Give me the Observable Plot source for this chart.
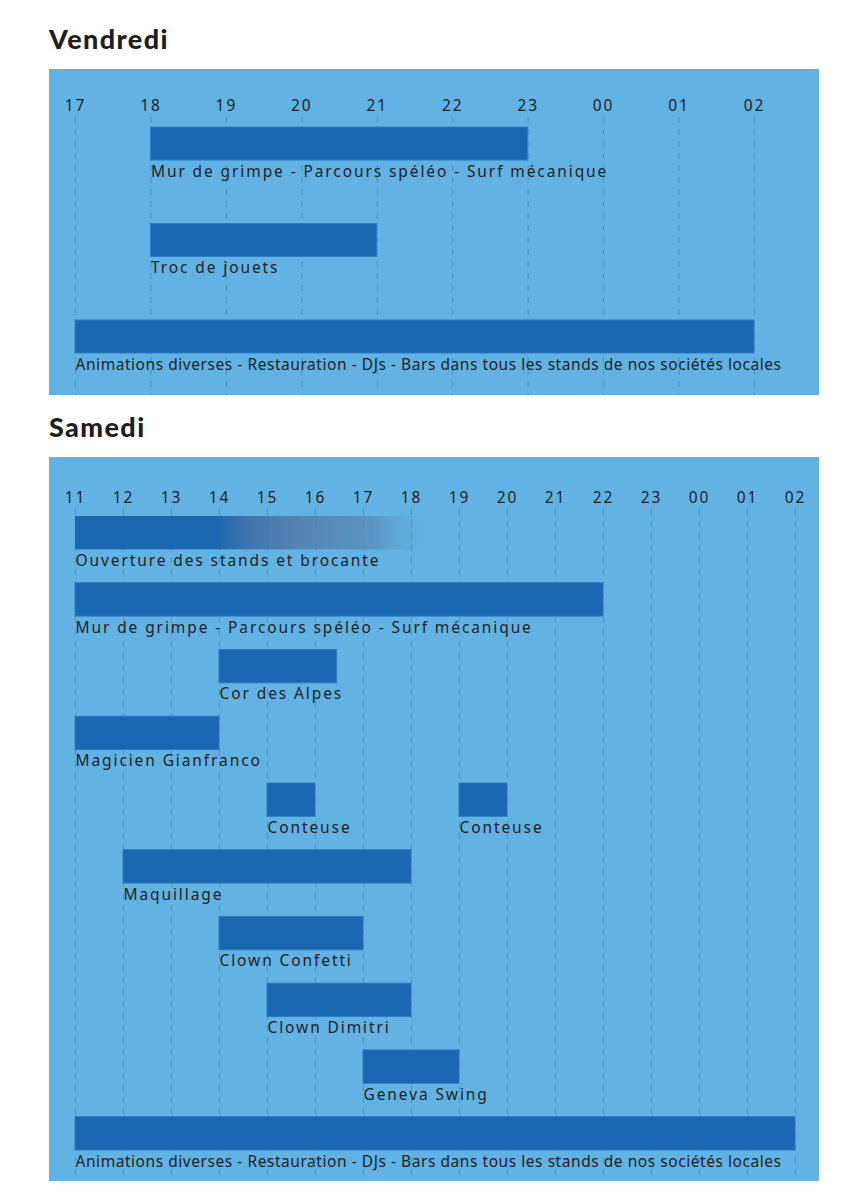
<!DOCTYPE html>
<html>
<head>
<meta charset="utf-8">
<script src="https://cdn.jsdelivr.net/npm/d3@7"></script>
<script src="https://cdn.jsdelivr.net/npm/@observablehq/plot@0.6"></script>
<style>
  html, body { margin: 0; padding: 0; background: #fff; }
  body { width: 844px; height: 1202px; position: relative; font-family: "Noto Sans", sans-serif; }
  .title { position: absolute; left: 49px; margin: 0; font-family: Lato, sans-serif; font-weight: 900; font-size: 27px; line-height: 27px; color: #1e1e1e; letter-spacing: 1.4px; }
  .panel { position: absolute; left: 49px; width: 770px; }
  .panel svg { display: block; }
</style>
</head>
<body>
<h2 class="title" style="top:25px">Vendredi</h2>
<div class="panel" id="vendredi" style="top:69px"></div>
<h2 class="title" style="top:413px">Samedi</h2>
<div class="panel" id="samedi" style="top:457px"></div>
<script>
// ---- Vendredi data ----
const vendrediHours = [17, 18, 19, 20, 21, 22, 23, 24, 25, 26];
const vendrediTickLabels = ["17", "18", "19", "20", "21", "22", "23", "00", "01", "02"];
const vendrediActivities = [
  "Mur de grimpe - Parcours spéléo - Surf mécanique",
  "Troc de jouets",
  "Animations diverses - Restauration - DJs - Bars dans tous les stands de nos sociétés locales"
];
const vendrediRows = [0, 1, 2];
const vendrediStart = [18, 18, 17];
const vendrediEnd = [23, 21, 26];

// ---- Samedi data ----
const samediHours = [11, 12, 13, 14, 15, 16, 17, 18, 19, 20, 21, 22, 23, 24, 25, 26];
const samediTickLabels = ["11", "12", "13", "14", "15", "16", "17", "18", "19", "20", "21", "22", "23", "00", "01", "02"];
const samediActivities = [
  "Ouverture des stands et brocante",
  "Mur de grimpe - Parcours spéléo - Surf mécanique",
  "Cor des Alpes",
  "Magicien Gianfranco",
  "Conteuse",
  "Conteuse",
  "Maquillage",
  "Clown Confetti",
  "Clown Dimitri",
  "Geneva Swing",
  "Animations diverses - Restauration - DJs - Bars dans tous les stands de nos sociétés locales"
];
const samediRows = [0, 1, 2, 3, 4, 4, 5, 6, 7, 8, 9];
const samediStart = [11, 11, 14, 11, 15, 19, 12, 14, 15, 17, 11];
const samediEnd = [18.25, 22, 16.45, 14, 16, 20, 18, 17, 18, 19, 26];

// activity whose bar fades out (open-ended)
const fadingActivity = "Ouverture des stands et brocante";
const compactLabel = "Animations diverses - Restauration - DJs - Bars dans tous les stands de nos sociétés locales";

const BG = "#62b2e3";
const BAR = "#1967b0";
const GRID = "#4793cb";
const INK = "#222226";
const FS = 15.5;

function build(cfg) {
  const data = cfg.activities.map((a, i) => ({activity: a, row: cfg.rows[i], start: cfg.start[i], end: cfg.end[i]}));
  const rowDomain = Array.from(new Set(cfg.rows));
  const solid = data.filter(d => d.activity !== fadingActivity);
  const fading = data.filter(d => d.activity === fadingActivity);
  const labelMap = new Map(cfg.hours.map((h, i) => [h, cfg.tickLabels[i]]));
  const band = (cfg.height - cfg.marginTop - cfg.marginBottom) / ((rowDomain.length - 1) / (1 - cfg.paddingInner) + 1);
  const svg = Plot.plot({
    width: 770,
    height: cfg.height,
    marginTop: cfg.marginTop,
    marginBottom: cfg.marginBottom,
    marginLeft: 26,
    marginRight: cfg.marginRight,
    style: {background: BG, fontFamily: "'Noto Sans', sans-serif", fontSize: FS + "px", color: INK, overflow: "visible"},
    x: {domain: cfg.domain},
    y: {type: "band", domain: rowDomain, paddingInner: cfg.paddingInner, paddingOuter: 0, round: false, axis: null},
    marks: [
      Plot.ruleX(cfg.hours, {x: d => d, stroke: GRID, strokeWidth: 1, strokeDasharray: "6,6", insetTop: -cfg.gridTop, insetBottom: -cfg.marginBottom}),
      Plot.axisX(cfg.hours, {anchor: "top", tickSize: 0, tickPadding: cfg.tickPadding, tickFormat: d => labelMap.get(d), fill: INK, fontSize: FS, label: null}),
      Plot.barX(solid, {x1: "start", x2: "end", y: "row", fill: BAR, stroke: "#2f7cc3", strokeWidth: 1}),
      Plot.barX(fading, {x1: "start", x2: "end", y: "row", fill: "url(#fadeBar)"}),
      Plot.text(data, {x: "start", y: "row", text: "activity", textAnchor: "start", lineAnchor: "top", dy: band / 2 + cfg.labelGap, fill: INK, fontSize: FS})
    ]
  });
  const s = d3.select(svg);
  s.insert("defs", ":first-child").html(
    `<linearGradient id="fadeBar" x1="0" x2="1" y1="0" y2="0">
      <stop offset="0.40" stop-color="${BAR}" stop-opacity="1"/>
      <stop offset="0.50" stop-color="#3f71aa" stop-opacity="0.95"/>
      <stop offset="0.62" stop-color="#5079a8" stop-opacity="0.85"/>
      <stop offset="0.85" stop-color="#5688b2" stop-opacity="0.7"/>
      <stop offset="1" stop-color="#5a98c8" stop-opacity="0"/>
    </linearGradient>`);
  // letter spacing: spaced labels, compact long label
  s.selectAll("text").each(function() {
    const t = this.textContent;
    this.style.letterSpacing = t === compactLabel ? "0.55px" : "1.9px";
  });
  document.getElementById(cfg.id).appendChild(svg);
}

build({id: "vendredi", hours: vendrediHours, tickLabels: vendrediTickLabels, activities: vendrediActivities,
  rows: vendrediRows, start: vendrediStart, end: vendrediEnd, domain: [17, 26],
  height: 326, marginTop: 58, marginBottom: 42, marginRight: 65, paddingInner: 0.658,
  tickPadding: 17, gridTop: 10, labelGap: 5});

build({id: "samedi", hours: samediHours, tickLabels: samediTickLabels, activities: samediActivities,
  rows: samediRows, start: samediStart, end: samediEnd, domain: [11, 26],
  height: 724, marginTop: 59, marginBottom: 31, marginRight: 24, paddingInner: 0.5,
  tickPadding: 14, gridTop: 7, labelGap: 5});
</script>
</body>
</html>
